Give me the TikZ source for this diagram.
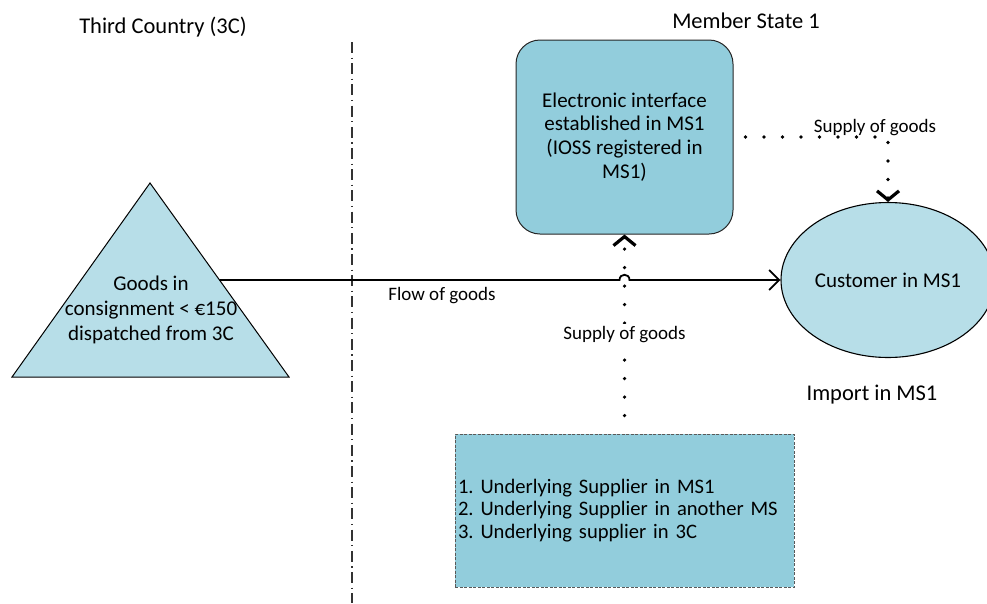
\documentclass[tikz,border=0pt]{standalone}
\usepackage{fontspec}
\setmainfont{Carlito}
\usetikzlibrary{arrows.meta,shapes.geometric}
\definecolor{boxblue}{HTML}{92CDDC}
\definecolor{lightblue}{HTML}{B7DEE8}
\frenchspacing
\tikzset{
  headfont/.style={font=\fontsize{22.5}{26}\selectfont},
  labelfont/.style={font=\fontsize{19}{22}\selectfont},
  eifbox/.style={draw=black!85, line width=1pt, fill=boxblue, rounded corners=24pt,
    minimum width=217pt, minimum height=194pt, align=center,
    font=\fontsize{21}{23.7}\selectfont},
  custell/.style={ellipse, draw=black, line width=1.1pt, fill=lightblue,
    minimum width=214pt, minimum height=155pt, inner sep=0pt,
    font=\fontsize{21}{24}\selectfont},
  supbox/.style={draw=black!65, line width=0.9pt, dash pattern=on 3pt off 1.5pt,
    fill=boxblue, minimum height=153pt, text width=333pt, inner xsep=3pt,
    align=left, font=\fontsize{20.6}{22.3}\selectfont},
  tri/.style={draw=black, line width=1pt, fill=lightblue},
  tritext/.style={align=center, font=\fontsize{21}{25}\selectfont},
  divider/.style={draw=black!80, line width=1.2pt, dash pattern=on 11pt off 4.5pt on 1.2pt off 4.5pt},
  flow/.style={draw=black, line width=1.8pt,
    -{Straight Barb[length=10pt,width=20pt,line width=1.8pt]}},
  dotconn/.style={draw=black, line width=3.6pt, line cap=round,
    dash pattern=on 0pt off 18.5pt,
    -{Straight Barb[length=9pt,width=22pt,line width=3.2pt]}},
}
\begin{document}
\begin{tikzpicture}[x=1pt,y=-1pt]
\useasboundingbox (0,0) rectangle (987,603);

% divider
\coordinate (divtop) at (352,42);
\coordinate (divbot) at (352,603);
\draw[divider] (divtop) -- (divbot);

% headings
\node[headfont, anchor=base] (h3c) at (163,33) {Third Country (3C)};
\node[headfont, anchor=base] (hms) at (746,28) {Member State 1};
\node[headfont, anchor=base] (himp) at (872,400) {Import in MS1};

% triangle
\coordinate (triA) at (150,183);
\coordinate (triB) at (289,377);
\coordinate (triC) at (12,377);
\draw[tri] (triA) -- (triB) -- (triC) -- cycle;
\node[tritext] (tritext) at (151,310) {Goods in\\consignment < €150\\dispatched from 3C};
\coordinate (trir) at (219.5,280);

% main nodes
\node[eifbox] (eif) at (624.5,137) {Electronic interface\\established in MS1\\(IOSS registered in\\MS1)};
\node[custell] (cust) at (888,280) {Customer in MS1};
\node[supbox] (sup) at (624.5,510.5) {1. Underlying Supplier in MS1\\2. Underlying Supplier in another MS\\3. Underlying supplier in 3C};

% flow of goods with line jump
\coordinate (hopL) at (619.5,280);
\coordinate (hopR) at (629.5,280);
\draw[flow] (trir) -- (hopL) .. controls (619.5,273) and (629.5,273) .. (hopR) -- (cust.west);
\node[labelfont, anchor=base] (lflow) at (442,300) {Flow of goods};

% supply from underlying supplier to interface
\draw[dotconn, shorten <=18pt] (sup.north) -- (eif.south);
\node[labelfont, anchor=base, fill=white, inner sep=1.5pt] (lsup1) at (624.5,339) {Supply of goods};

% supply from interface to customer
\draw[dotconn, shorten <=12pt] (eif.east) -| (cust.north);
\node[labelfont, anchor=base] (lsup2) at (875,132) {Supply of goods};
\end{tikzpicture}
\end{document}
